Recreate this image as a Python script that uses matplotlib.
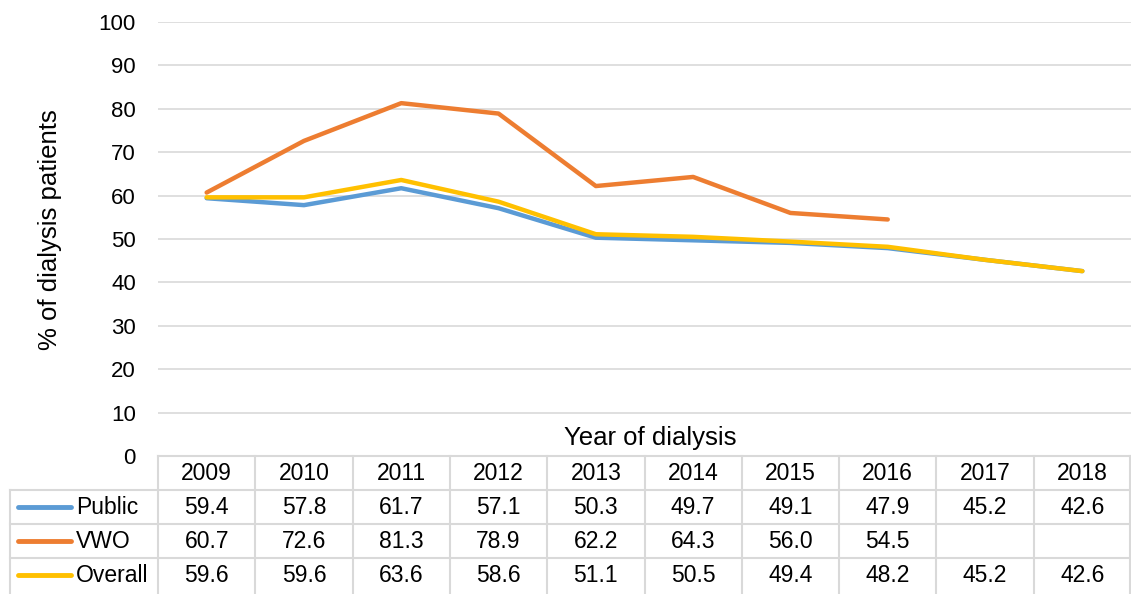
import matplotlib
matplotlib.use("Agg")
import matplotlib.pyplot as plt
import numpy as np

years = ["2009", "2010", "2011", "2012", "2013", "2014", "2015", "2016", "2017", "2018"]
public = [59.4, 57.8, 61.7, 57.1, 50.3, 49.7, 49.1, 47.9, 45.2, 42.6]
vwo = [60.7, 72.6, 81.3, 78.9, 62.2, 64.3, 56.0, 54.5, None, None]
overall = [59.6, 59.6, 63.6, 58.6, 51.1, 50.5, 49.4, 48.2, 45.2, 42.6]
series_names = ["Public", "VWO", "Overall"]
series_values = [public, vwo, overall]
colors = ["#5B9BD5", "#ED7D31", "#FFC000"]

plt.rcParams['font.family'] = ['Liberation Sans', 'DejaVu Sans']
W, H = 1131, 594
fig = plt.figure(figsize=(W / 100, H / 100), dpi=100)

left_px, right_px, top_px, bottom_px = 158, 1131, 22, 456
ax = fig.add_axes([left_px / W, 1 - bottom_px / H, (right_px - left_px) / W, (bottom_px - top_px) / H])
ax.set_xlim(-0.5, len(years) - 0.5)
ax.set_ylim(0, 100)
ax.set_yticks(range(0, 101, 10))
ax.tick_params(axis='y', length=0, labelsize=16, pad=16)
ax.set_xticks([])
for s in ax.spines.values():
    s.set_visible(False)
ax.grid(axis='y', color='#D9D9D9', linewidth=1.2)
ax.set_axisbelow(True)

x = np.arange(len(years))
for name, vals, c in zip(series_names, series_values, colors):
    y = np.array([np.nan if v is None else v for v in vals], dtype=float)
    ax.plot(x, y, color=c, linewidth=3.2, solid_capstyle='round', solid_joinstyle='round', zorder=3)

fig.text(50 / W, 1 - 230 / H, "% of dialysis patients", rotation=90, ha='center', va='center', fontsize=18.5)
fig.text(650 / W, 1 - 438 / H, "Year of dialysis", ha='center', va='center', fontsize=18.5)

# data table
gc = '#D9D9D9'
row_h = 34
header_top = 456
col_w = (right_px - left_px) / len(years)
def fy(py):
    return 1 - py / H
def fx(px):
    return px / W

fig.add_artist(plt.Line2D([fx(left_px), fx(right_px)], [fy(header_top), fy(header_top)], color=gc, lw=1.5, transform=fig.transFigure))
for r in range(1, 4):
    yy = header_top + r * row_h
    fig.add_artist(plt.Line2D([fx(10), fx(right_px)], [fy(yy), fy(yy)], color=gc, lw=1.5, transform=fig.transFigure))
for i in range(len(years) + 1):
    xx = left_px + i * col_w
    if i == len(years):
        xx = right_px - 1
    fig.add_artist(plt.Line2D([fx(xx), fx(xx)], [fy(header_top), fy(H)], color=gc, lw=1.5, transform=fig.transFigure))
fig.add_artist(plt.Line2D([fx(10), fx(10)], [fy(header_top + row_h), fy(H)], color=gc, lw=1.5, transform=fig.transFigure))

for i, yr in enumerate(years):
    fig.text(fx(left_px + (i + 0.5) * col_w), fy(header_top + row_h / 2), yr, ha='center', va='center', fontsize=16.5)

for r, (name, vals, c) in enumerate(zip(series_names, series_values, colors)):
    yc = header_top + (r + 1.5) * row_h
    fig.add_artist(plt.Line2D([fx(18), fx(71)], [fy(yc), fy(yc)], color=c, lw=3.5, solid_capstyle='round', transform=fig.transFigure))
    fig.text(fx(76), fy(yc), name, ha='left', va='center', fontsize=16.5)
    for i, v in enumerate(vals):
        if v is None:
            continue
        fig.text(fx(left_px + (i + 0.5) * col_w), fy(yc), f"{v:.1f}", ha='center', va='center', fontsize=16.5)

fig.savefig("out.png", dpi=100)
